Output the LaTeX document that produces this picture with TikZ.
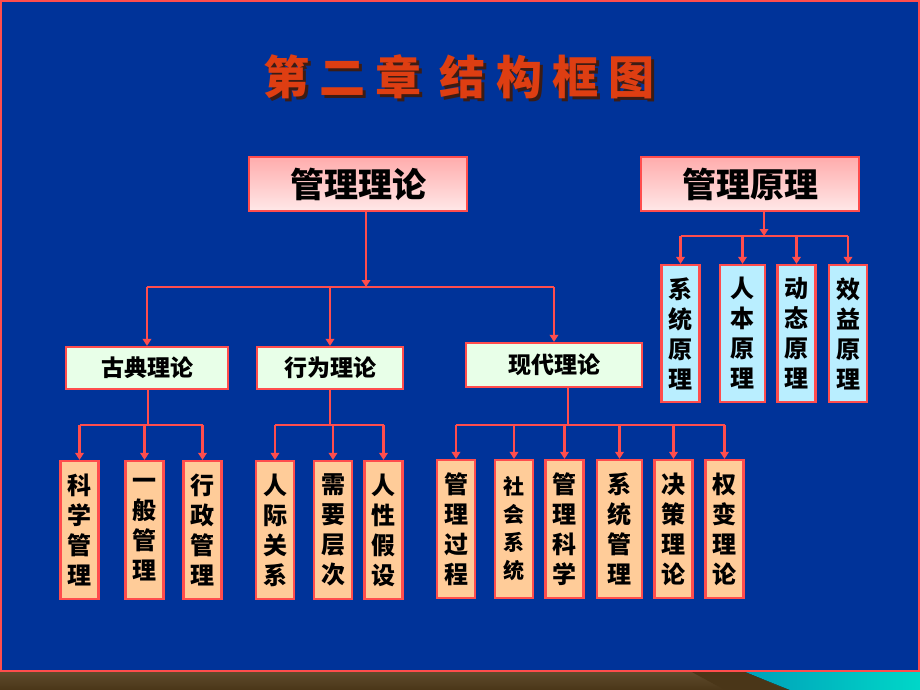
\documentclass[tikz,border=0pt]{standalone}
\usepackage{fontspec}
\newfontfamily\cjk{Noto Sans CJK SC}
\usetikzlibrary{arrows.meta}
\definecolor{slide}{RGB}{0,51,153}
\definecolor{edge}{RGB}{255,77,77}
\definecolor{titlered}{RGB}{222,62,18}
\definecolor{titleshade}{RGB}{60,28,20}
\definecolor{pinktop}{RGB}{255,172,172}
\definecolor{pinkbot}{RGB}{255,232,232}
\definecolor{mint}{RGB}{232,255,232}
\definecolor{peach}{RGB}{255,204,153}
\definecolor{ice}{RGB}{185,238,255}
\definecolor{mud}{RGB}{74,54,24}
\definecolor{mudlight}{RGB}{96,76,46}
\newcommand{\chaptertitle}{第二章\hspace{18pt}结构框图}
\begin{document}
\begin{tikzpicture}
[x=1pt, y=-1pt,
 head/.style={draw=edge, line width=2.2pt, top color=pinktop, bottom color=pinkbot, minimum width=218pt, minimum height=54pt, inner sep=0pt, font=\cjk\bfseries\fontsize{34}{40}\selectfont},
 branch/.style={draw=edge, line width=2.2pt, fill=mint, minimum height=42pt, inner sep=0pt, font=\cjk\bfseries\fontsize{23}{28}\selectfont},
 leaf/.style={draw=edge, line width=2.2pt, fill=peach, minimum width=38pt, minimum height=138pt, inner sep=0pt, align=center, font=\cjk\bfseries\fontsize{24}{30}\selectfont},
 rule/.style={leaf, fill=ice, minimum height=137pt},
 link/.style={edge, line width=2.3pt},
 tip/.style={link, -{Triangle[width=8.5pt,length=7pt]}},
]
\useasboundingbox (0,0) rectangle (920,690);

%bottom strip
\fill[top color=mudlight, bottom color=mud] (0,670) rectangle (920,690);
\fill[mud] (690,671) -- (745,671) -- (785,690) -- (725,690) -- cycle;
\fill[left color={rgb,255:red,0;green,160;blue,185}, right color={rgb,255:red,0;green,215;blue,200}] (743,671) -- (920,671) -- (920,690) -- (790,690) .. controls (770,682) .. (743,671);

%slide
\fill[slide] (0,0) rectangle (920,671);
\draw[edge, line width=2pt] (1,1) rectangle (919,671);

%title
\node[text=titlered, font=\cjk\bfseries\fontsize{46}{52}\selectfont\addfontfeature{LetterSpace=22}] (title) at (459,78)
  {\rlap{\kern3pt\raisebox{-3pt}{\textcolor{titleshade}{\chaptertitle}}}\chaptertitle};

%管理理论
\node[head] (theory) at (358,184) {管理理论};
\coordinate (busT) at (366,287);

\node[branch, minimum width=162pt] (classic) at (147,368) {古典理论};
\node[branch, minimum width=146pt] (behave)  at (330,368) {行为理论};
\node[branch, minimum width=176pt, minimum height=44pt] (modern) at (554,365) {现代理论};

\draw[tip] (theory.south -| busT) -- (busT);
\draw[link] (classic.north |- busT) -- (modern.north |- busT);
\foreach \n in {classic, behave, modern}
  \draw[tip] (\n.north |- busT) -- (\n.north);

%古典理论
\coordinate (busC) at (148,425);
\node[leaf] (sci)   at (79.5,530)  {科\\学\\管\\理};
\node[leaf] (gen)   at (144.5,530) {一\\般\\管\\理};
\node[leaf] (admin) at (202.5,530) {行\\政\\管\\理};

\draw[link] (classic.south -| busC) -- (busC);
\draw[link] (sci.north |- busC) -- (admin.north |- busC);
\foreach \n in {sci, gen, admin}
  \draw[tip] (\n.north |- busC) -- (\n.north);

%行为理论
\coordinate (busB) at (330,425);
\node[leaf] (human) at (275,530) {人\\际\\关\\系};
\node[leaf] (needs) at (333,530) {需\\要\\层\\次};
\node[leaf] (nature) at (383.5,530) {人\\性\\假\\设};

\draw[link] (behave.south -| busB) -- (busB);
\draw[link] (human.north |- busB) -- (nature.north |- busB);
\foreach \n in {human, needs, nature}
  \draw[tip] (\n.north |- busB) -- (\n.north);

%现代理论
\coordinate (busM) at (568,425);
\node[leaf] (process) at (456,529)   {管\\理\\过\\程};
\node[leaf, font=\cjk\bfseries\fontsize{21}{28}\selectfont] (social) at (514,529) {社\\会\\系\\统};
\node[leaf] (mgmtsci) at (564.5,529) {管\\理\\科\\学};
\node[leaf, minimum width=45pt] (system) at (619.5,529) {系\\统\\管\\理};
\node[leaf] (decide)  at (673.5,529) {决\\策\\理\\论};
\node[leaf] (contin)  at (724.5,529) {权\\变\\理\\论};

\draw[link] (modern.south -| busM) -- (busM);
\draw[link] (process.north |- busM) -- (contin.north |- busM);
\foreach \n in {process, social, mgmtsci, system, decide, contin}
  \draw[tip] (\n.north |- busM) -- (\n.north);

%管理原理
\node[head] (principle) at (750,184) {管理原理};
\coordinate (busP) at (764,236);
\node[rule] (sysp)  at (680.5,333.5) {系\\统\\原\\理};
\node[rule, minimum width=45pt] (peoplep) at (742.5,333.5) {人\\本\\原\\理};
\node[rule] (dynp)  at (796.5,333.5) {动\\态\\原\\理};
\node[rule] (effp)  at (848,333.5)   {效\\益\\原\\理};

\draw[tip] (principle.south -| busP) -- (busP);
\draw[link] (sysp.north |- busP) -- (effp.north |- busP);
\foreach \n in {sysp, peoplep, dynp, effp}
  \draw[tip] (\n.north |- busP) -- (\n.north);

\end{tikzpicture}
\end{document}
